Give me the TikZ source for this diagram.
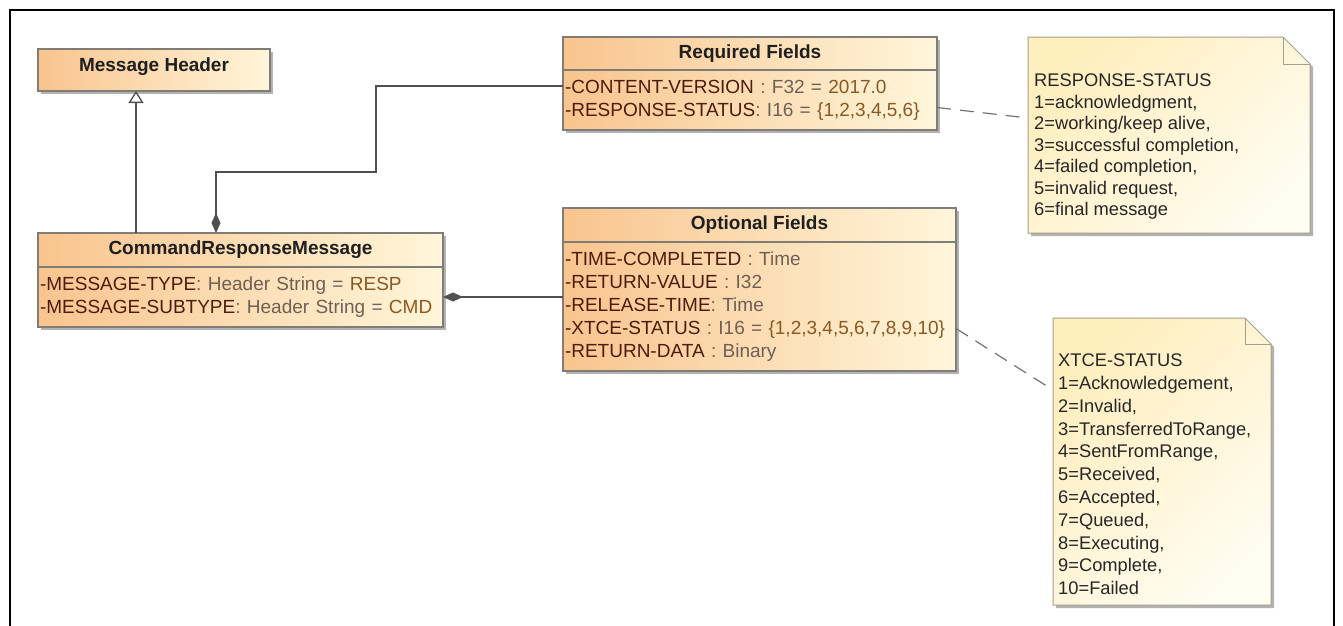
\documentclass[tikz,border=0pt]{standalone}
\usepackage{fontspec}
\setmainfont{Liberation Sans}
\usetikzlibrary{arrows.meta,positioning,shadows}
\definecolor{umlorange}{RGB}{249,196,142}
\definecolor{umlcream}{RGB}{255,246,218}
\definecolor{umlborder}{RGB}{128,124,118}
\definecolor{notetop}{RGB}{255,238,190}
\definecolor{notebot}{RGB}{255,252,240}
\definecolor{noteborder}{RGB}{165,160,140}
\definecolor{attrname}{RGB}{78,28,14}
\definecolor{attrtype}{RGB}{110,96,84}
\definecolor{attrval}{RGB}{138,88,34}
\definecolor{linkgray}{RGB}{80,80,80}
\tikzset{
  classfill/.style={draw=umlborder, line width=1.2pt, left color=umlorange, right color=umlcream,
               outer sep=0pt, drop shadow={shadow xshift=3pt, shadow yshift=-3pt, fill=black, opacity=.3}},
  classhead/.style={classfill, inner sep=0pt, font=\bfseries\fontsize{19}{23}\selectfont, text=black!88},
  classbody/.style={classfill, align=left, inner xsep=2pt, inner ysep=7pt, font=\fontsize{19}{23}\selectfont},
  notebox/.style={inner sep=0pt, outer sep=0pt, anchor=north west},
  notetext/.style={inner sep=0pt, anchor=north west, align=left, text=black!85,
               font=\fontsize{18.3}{21.5}\selectfont},
  inherit/.style={-{Triangle[open, length=12pt, width=15pt, fill=white]}, line width=1.3pt, draw=linkgray},
  compose/.style={{Diamond[length=20pt, width=9pt]}-, line width=1.3pt, draw=linkgray},
  anchorline/.style={line width=1.2pt, draw=linkgray!80, dash pattern=on 14pt off 9pt},
}
% one attribute row: name, type, value
\newcommand{\attr}[3]{\strut\textcolor{attrname}{#1}\textcolor{attrtype}{#2}\textcolor{attrval}{#3}}
% folded note outline round node #1, fold size #2
\newcommand{\foldnote}[2]{%
  \fill[black!30, transform canvas={xshift=3pt, yshift=-3pt}]
    (#1.north west) -- ([xshift=-#2]#1.north east) -- ([yshift=-#2]#1.north east)
    -- (#1.south east) -- (#1.south west) -- cycle;
  \shadedraw[draw=noteborder, line width=1pt, top color=notetop, bottom color=notebot, shading angle=45]
    (#1.north west) -- ([xshift=-#2]#1.north east) -- ([yshift=-#2]#1.north east)
    -- (#1.south east) -- (#1.south west) -- cycle;
  \draw[noteborder, line width=1pt] ([xshift=-#2]#1.north east) |- ([yshift=-#2]#1.north east);
}
\begin{document}
\begin{tikzpicture}[x=1pt, y=-1pt]
    \useasboundingbox (0,0) rectangle (1343,625);
    \draw[line width=2pt] (9.5,640) -- (9.5,9.5) -- (1334,9.5) -- (1334,640);

    % classes
    \node[classhead, anchor=north west, minimum width=232pt, minimum height=42pt, text depth=10pt]
      (mhdr) at (38,49) {Message Header};
    \node[classhead, anchor=north west, minimum width=405pt, minimum height=34pt]
      (crm) at (38,233) {CommandResponseMessage};
    \node[classbody, text width=401pt, below=0pt of crm] (crmbody)
      {\attr{-MESSAGE-TYPE}{: Header String = }{RESP}\\
       \attr{-MESSAGE-SUBTYPE}{: Header String = }{CMD}};
    \node[classhead, anchor=north west, minimum width=374pt, minimum height=33pt]
      (req) at (563,37) {Required Fields};
    \node[classbody, text width=370pt, below=0pt of req] (reqbody)
      {\attr{-CONTENT-VERSION}{\ : F32 = }{2017.0}\\
       \attr{-RESPONSE-STATUS}{: I16 = }{\{1,2,3,4,5,6\}}};
    \node[classhead, anchor=north west, minimum width=393pt, minimum height=34pt]
      (opt) at (563,208) {Optional Fields};
    \node[classbody, text width=389pt, below=0pt of opt] (optbody)
      {\attr{-TIME-COMPLETED}{\ : Time}{}\\
       \attr{-RETURN-VALUE}{\ : I32}{}\\
       \attr{-RELEASE-TIME}{: Time}{}\\
       \attr{-XTCE-STATUS}{\ : I16 = }{\{1,2,3,4,5,6,7,8,9,10\}}\\
       \attr{-RETURN-DATA}{\ : Binary}{}};

    % notes
    \node[notebox, minimum width=282pt, minimum height=196pt] (rsnote) at (1028,37) {};
    \foldnote{rsnote}{27pt}
    \node[notetext] (rslist) at ([shift={(6pt,-34.5pt)}]rsnote.north west)
      {\strut RESPONSE-STATUS\\1=acknowledgment,\\2=working/keep alive,\\3=successful completion,\\
       4=failed completion,\\5=invalid request,\\6=final message};
    \node[notebox, minimum width=218pt, minimum height=287pt] (xsnote) at (1053,318) {};
    \foldnote{xsnote}{26pt}
    \node[notetext, font=\fontsize{18.3}{22.8}\selectfont] (xslist) at ([shift={(5pt,-32.5pt)}]xsnote.north west)
      {\strut XTCE-STATUS\\1=Acknowledgement,\\2=Invalid,\\3=TransferredToRange,\\4=SentFromRange,\\
       5=Received,\\6=Accepted,\\7=Queued,\\8=Executing,\\9=Complete,\\10=Failed};

    % connectors
    \draw[inherit] ([xshift=98pt]crm.north west) -- ([xshift=98pt]crm.north west |- mhdr.south);
    \coordinate (reqbend) at (376,172);
    \draw[compose] ([xshift=178pt]crm.north west) |- (reqbend) |- ([yshift=-16pt]reqbody.north west);
    \draw[compose] (crmbody.east) -- (crmbody.east -| optbody.west);
    \draw[anchorline, shorten >=8pt] ([yshift=-7.5pt]reqbody.east) -- ([yshift=17pt]rsnote.west);
    \draw[anchorline] ([yshift=-22pt]optbody.east) -- ([yshift=71.5pt]xsnote.west);
\end{tikzpicture}
\end{document}
